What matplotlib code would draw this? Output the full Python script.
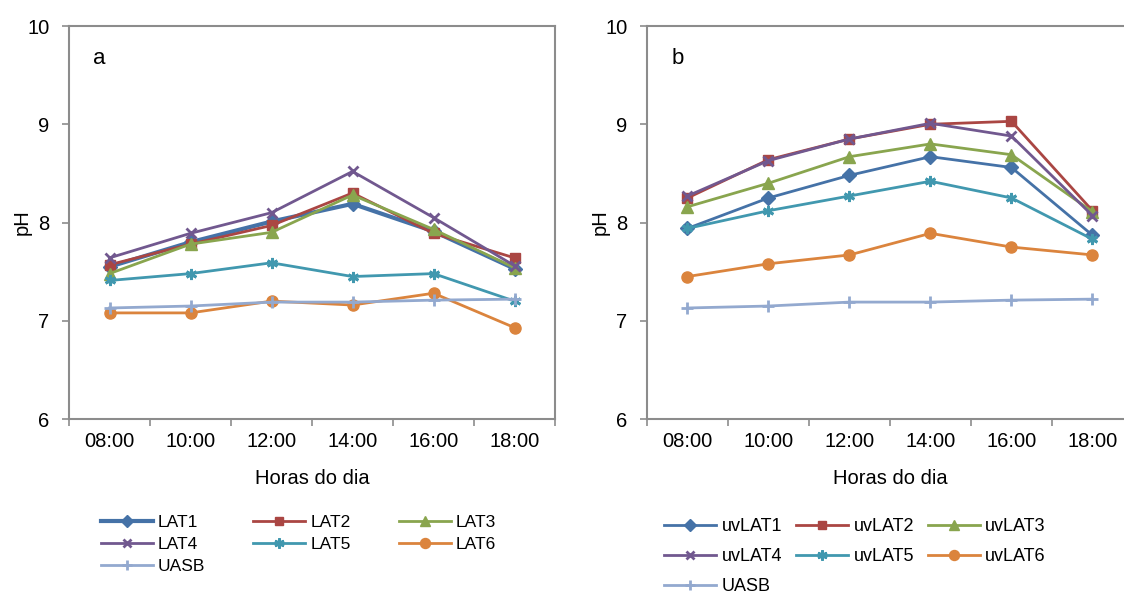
import matplotlib
matplotlib.use('Agg')
import matplotlib.pyplot as plt

plt.rcParams['font.family'] = ['Liberation Sans', 'DejaVu Sans']

# horas do dia
horas = ['08:00', '10:00', '12:00', '14:00', '16:00', '18:00']

# painel a - lagoas de alta taxa
lat1 = [7.55, 7.80, 8.01, 8.19, 7.91, 7.53]
lat2 = [7.57, 7.78, 7.97, 8.30, 7.89, 7.64]
lat3 = [7.48, 7.78, 7.90, 8.28, 7.93, 7.54]
lat4 = [7.64, 7.89, 8.10, 8.52, 8.05, 7.56]
lat5 = [7.41, 7.48, 7.59, 7.45, 7.48, 7.20]
lat6 = [7.08, 7.08, 7.20, 7.16, 7.28, 6.93]
uasb = [7.13, 7.15, 7.19, 7.19, 7.21, 7.22]

# painel b - lagoas com UV
uvlat1 = [7.94, 8.25, 8.48, 8.67, 8.56, 7.87]
uvlat2 = [8.25, 8.64, 8.85, 9.00, 9.03, 8.12]
uvlat3 = [8.16, 8.40, 8.67, 8.80, 8.69, 8.11]
uvlat4 = [8.27, 8.63, 8.85, 9.01, 8.88, 8.07]
uvlat5 = [7.94, 8.12, 8.27, 8.42, 8.25, 7.83]
uvlat6 = [7.45, 7.58, 7.67, 7.89, 7.75, 7.67]

cores = ['#4572A7', '#AA4643', '#89A54E', '#71588F', '#4198AF', '#DB843D', '#93A9CF']
marcas = ['D', 's', '^', 'x', (6, 2, 0), 'o', '+']
tamanhos = [7, 7, 8, 7, 8, 8, 8]

fig = plt.figure(figsize=(11.24, 5.94), dpi=100)
ax_a = fig.add_axes([0.0614, 0.2946, 0.4324, 0.6616])
ax_b = fig.add_axes([0.5756, 0.2946, 0.4324, 0.6616])

x = list(range(len(horas)))


def desenha(ax, series, nomes, larguras, letra):
    for i, (y, nome) in enumerate(zip(series, nomes)):
        ax.plot(x, y, color=cores[i], marker=marcas[i], markersize=tamanhos[i],
                markeredgewidth=2 if marcas[i] in ('x', '+') or i == 4 else 1,
                markeredgecolor=cores[i], linewidth=larguras[i], label=nome)
    ax.set_xlim(-0.5, 5.5)
    ax.set_ylim(6, 10)
    ax.set_yticks([6, 7, 8, 9, 10])
    ax.set_xticks([i + 0.5 for i in range(-1, 6)], minor=False)
    ax.set_xticklabels([])
    ax.set_xticks(x, minor=True)
    ax.set_xticklabels(horas, minor=True)
    ax.tick_params(axis='x', which='major', length=5, width=1.2, color='#8c8c8c', direction='out')
    ax.tick_params(axis='x', which='minor', length=0, pad=9, labelsize=14.5)
    ax.tick_params(axis='y', length=5, width=1.2, color='#8c8c8c', direction='out',
                   pad=9, labelsize=14.5)
    for s in ax.spines.values():
        s.set_color('#8c8c8c')
        s.set_linewidth(1.5)
    ax.set_xlabel('Horas do dia', fontsize=14.5, labelpad=13)
    ax.set_ylabel('pH', fontsize=14.5, labelpad=-3)
    ax.text(0.05, 0.918, letra, transform=ax.transAxes, fontsize=16, va='center')


desenha(ax_a, [lat1, lat2, lat3, lat4, lat5, lat6, uasb],
        ['LAT1', 'LAT2', 'LAT3', 'LAT4', 'LAT5', 'LAT6', 'UASB'],
        [3, 2, 2, 2, 2, 2, 2], 'a')
desenha(ax_b, [uvlat1, uvlat2, uvlat3, uvlat4, uvlat5, uvlat6, uasb],
        ['uvLAT1', 'uvLAT2', 'uvLAT3', 'uvLAT4', 'uvLAT5', 'uvLAT6', 'UASB'],
        [2, 2, 2, 2, 2, 2, 2], 'b')

# legenda preenchida por linhas (matplotlib preenche por colunas)
ordem = [0, 3, 6, 1, 4, 2, 5]

h, l = ax_a.get_legend_handles_labels()
fig.legend([h[i] for i in ordem], [l[i] for i in ordem], loc='upper left',
           bbox_to_anchor=(0.0896, 0.133), ncol=3, frameon=False,
           fontsize=12.5, handlelength=3.0, handletextpad=0.3,
           columnspacing=2.75, labelspacing=0.4, borderpad=0, borderaxespad=0,
           markerscale=0.9)
h, l = ax_b.get_legend_handles_labels()
fig.legend([h[i] for i in ordem], [l[i] for i in ordem], loc='upper left',
           bbox_to_anchor=(0.5907, 0.128), ncol=3, frameon=False,
           fontsize=13, handlelength=2.9, handletextpad=0.3,
           columnspacing=0.75, labelspacing=0.72, borderpad=0, borderaxespad=0,
           markerscale=0.9)

fig.savefig('out.png', dpi=100)
